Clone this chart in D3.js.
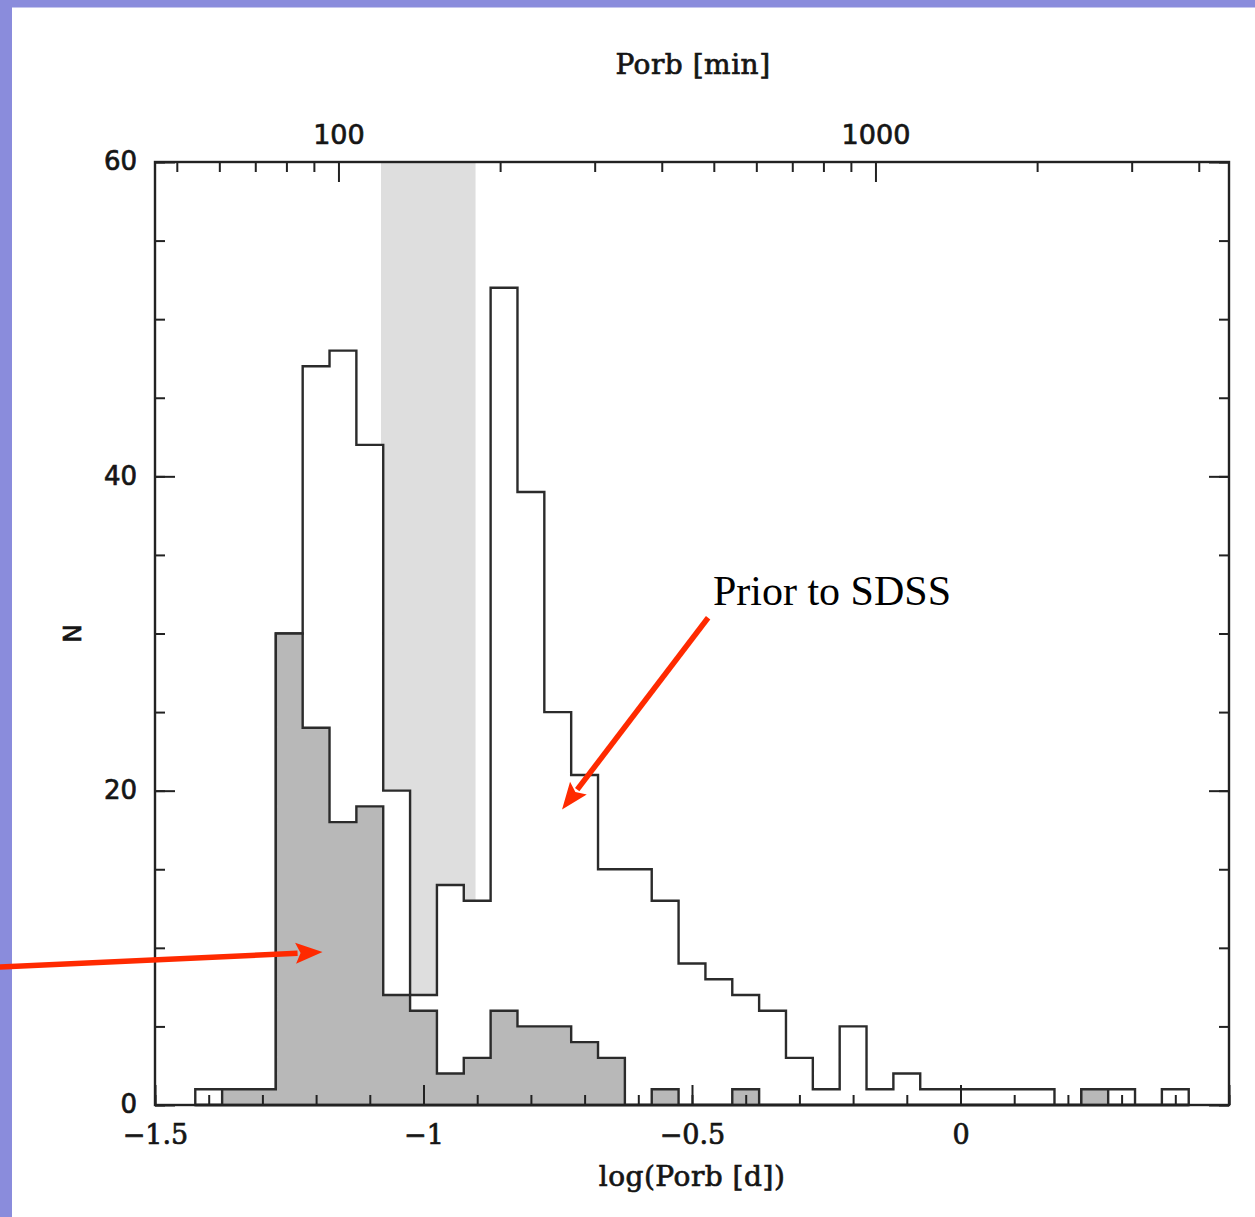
<!DOCTYPE html>
<html>
<head>
<meta charset="utf-8">
<script src="https://cdn.jsdelivr.net/npm/d3@7"></script>
<style>
  html, body { margin: 0; padding: 0; background: #fff; }
  svg { display: block; }
</style>
</head>
<body>
<svg id="chart" width="1255" height="1217"></svg>
<script>
// Orbital period distribution of cataclysmic variables, log(Porb [d]) bins of 0.05
const binStart = -1.425;
const binWidth = 0.05;

// All known systems (open histogram)
const countsAll = [1, 1, 1, 30, 47, 48, 42, 20, 7, 14, 13, 52, 39, 25, 21, 15, 15, 13, 9, 8,
                   7, 6, 3, 1, 5, 1, 2, 1, 1, 1, 1, 1, 0, 1, 1, 0, 1];
// SDSS systems (grey filled histogram)
const countsSDSS = [0, 1, 1, 30, 24, 18, 19, 7, 6, 2, 3, 6, 5, 5, 4, 3, 0, 1, 0, 0,
                    1, 0, 0, 0, 0, 0, 0, 0, 0, 0, 0, 0, 0, 1, 0, 0, 0];

// Period gap, 2 to 3 hours
const gapHours = [2, 3];

// Tick values
const xMajorTicks = [-1.5, -1, -0.5, 0, 0.5];
const xMinorTicks = d3.range(-1.5, 0.5001, 0.1).map(v => +v.toFixed(2));
const yMajorTicks = [0, 20, 40, 60];
const yMinorTicks = d3.range(0, 61, 5);
const topMajorTicks = [100, 1000];
const topMinorTicks = [50, 60, 70, 80, 90, 200, 300, 400, 500, 600, 700, 800, 900, 2000, 3000, 4000];

// Annotation anchors in data units
const priorLabel = { x: -0.461, y: 31.8, text: "Prior to SDSS" };
const priorArrow = { from: [-0.470, 31.0], to: [-0.742, 18.8] };
const sdssArrow = { from: [-1.79, 8.78], to: [-1.188, 9.73] };

const svg = d3.select("#chart");
const W = 1255, H = 1217;
const m = { left: 155, right: 1229, top: 162, bottom: 1105 };

const x = d3.scaleLinear().domain([-1.5, 0.5]).range([m.left, m.right]);
const y = d3.scaleLinear().domain([0, 60]).range([m.bottom, m.top]);
const minPerDay = 1440;
const xTop = d3.scaleLog()
  .domain([Math.pow(10, -1.5) * minPerDay, Math.pow(10, 0.5) * minPerDay])
  .range([m.left, m.right]);

const ink = "#151515";
const textStroke = 0.7;

// Page background and frame stripe
svg.append("rect").attr("width", W).attr("height", H).attr("fill", "#fff");
svg.append("rect").attr("x", 0).attr("y", 0).attr("width", W).attr("height", 7.5).attr("fill", "#8a8cdc");
svg.append("rect").attr("x", 0).attr("y", 0).attr("width", 12).attr("height", H).attr("fill", "#8a8cdc");

// Period gap band
const gapLo = Math.log10(gapHours[0] / 24), gapHi = Math.log10(gapHours[1] / 24);
svg.append("rect")
  .attr("x", x(gapLo)).attr("y", y(60))
  .attr("width", x(gapHi) - x(gapLo)).attr("height", y(0) - y(60))
  .attr("fill", "#dedede");

// Histogram builder
function binsOf(counts) {
  const pts = counts.map((n, k) => ({ x0: binStart + k * binWidth, n }));
  pts.push({ x0: binStart + counts.length * binWidth, n: counts[counts.length - 1] });
  return pts;
}
const area = d3.area()
  .curve(d3.curveStepAfter)
  .x(d => x(d.x0))
  .y0(y(0))
  .y1(d => y(d.n));

svg.append("path")
  .datum(binsOf(countsAll))
  .attr("d", area)
  .attr("fill", "#fff")
  .attr("stroke", "#2b2b2b")
  .attr("stroke-width", 2.4)
  .attr("stroke-linejoin", "miter");

svg.append("path")
  .datum(binsOf(countsSDSS))
  .attr("d", area)
  .attr("fill", "#b8b8b8")
  .attr("stroke", "#2b2b2b")
  .attr("stroke-width", 2.4)
  .attr("stroke-linejoin", "miter");

// Axes: ticks point inward
function styleAxis(g) {
  g.select(".domain").remove();
  g.selectAll(".tick line").attr("stroke", "#222").attr("stroke-width", 2);
}
function styleLabels(g, family, size) {
  g.selectAll("text")
    .attr("font-family", family)
    .attr("font-size", size)
    .attr("fill", ink)
    .attr("stroke", ink)
    .attr("stroke-width", textStroke);
}

const minorLen = 10, majorLen = 20;

svg.append("g").attr("transform", `translate(0,${m.bottom})`)
  .call(d3.axisBottom(x).tickValues(xMinorTicks).tickSize(-minorLen).tickFormat(""))
  .call(styleAxis);
svg.append("g").attr("transform", `translate(0,${m.bottom})`)
  .call(d3.axisBottom(x).tickValues(xMajorTicks).tickSize(-majorLen).tickPadding(20)
    .tickFormat(d => d === 0 ? "0" : (d === 0.5 ? "" : d3.format("")(d).replace("-", "\u2212"))))
  .call(styleAxis)
  .call(g => styleLabels(g, "'DejaVu Serif', serif", 27))
  .call(g => g.selectAll("text").attr("dy", "0.71em"));

svg.append("g").attr("transform", `translate(0,${m.top})`)
  .call(d3.axisTop(xTop).tickValues(topMinorTicks).tickSize(-minorLen).tickFormat(""))
  .call(styleAxis);
svg.append("g").attr("transform", `translate(0,${m.top})`)
  .call(d3.axisTop(xTop).tickValues(topMajorTicks).tickSize(-majorLen).tickPadding(18)
    .tickFormat(d3.format("d")))
  .call(styleAxis)
  .call(g => styleLabels(g, "'DejaVu Sans', sans-serif", 27));

svg.append("g").attr("transform", `translate(${m.left},0)`)
  .call(d3.axisLeft(y).tickValues(yMinorTicks).tickSize(-minorLen).tickFormat(""))
  .call(styleAxis);
svg.append("g").attr("transform", `translate(${m.left},0)`)
  .call(d3.axisLeft(y).tickValues(yMajorTicks).tickSize(-majorLen).tickPadding(18)
    .tickFormat(d3.format("d")))
  .call(styleAxis)
  .call(g => styleLabels(g, "'DejaVu Sans', sans-serif", 26))
  .call(g => g.selectAll("text").attr("dy", "0.30em"));

svg.append("g").attr("transform", `translate(${m.right},0)`)
  .call(d3.axisRight(y).tickValues(yMinorTicks).tickSize(-minorLen).tickFormat(""))
  .call(styleAxis);
svg.append("g").attr("transform", `translate(${m.right},0)`)
  .call(d3.axisRight(y).tickValues(yMajorTicks).tickSize(-majorLen).tickFormat(""))
  .call(styleAxis);

// Plot frame
svg.append("rect")
  .attr("x", m.left).attr("y", m.top)
  .attr("width", m.right - m.left).attr("height", m.bottom - m.top)
  .attr("fill", "none").attr("stroke", "#222").attr("stroke-width", 2.4);

// Axis titles
svg.append("text")
  .attr("x", 692).attr("y", 1186)
  .attr("text-anchor", "middle")
  .attr("font-family", "'DejaVu Serif', serif")
  .attr("font-size", 28).attr("letter-spacing", 0.5)
  .attr("fill", ink).attr("stroke", ink).attr("stroke-width", textStroke)
  .text("log(Porb [d])");

svg.append("text")
  .attr("x", 693).attr("y", 74)
  .attr("text-anchor", "middle")
  .attr("font-family", "'DejaVu Serif', serif")
  .attr("font-size", 28).attr("letter-spacing", 0.5)
  .attr("fill", ink).attr("stroke", ink).attr("stroke-width", textStroke)
  .text("Porb [min]");

svg.append("text")
  .attr("transform", `translate(81,${(m.top + m.bottom) / 2}) rotate(-90)`)
  .attr("text-anchor", "middle")
  .attr("font-family", "'DejaVu Sans', sans-serif")
  .attr("font-size", 25)
  .attr("fill", ink).attr("stroke", ink).attr("stroke-width", textStroke)
  .text("N");

// Annotations
const red = "#ff2a00";
function arrow(from, to) {
  const x1 = x(from[0]), y1 = y(from[1]), x2 = x(to[0]), y2 = y(to[1]);
  const dx = x2 - x1, dy = y2 - y1, L = Math.hypot(dx, dy);
  const ux = dx / L, uy = dy / L, px = -uy, py = ux;
  const head = 27, half = 10.5;
  const bx = x2 - ux * head, by = y2 - uy * head;
  svg.append("line")
    .attr("x1", x1).attr("y1", y1).attr("x2", bx + ux * 2).attr("y2", by + uy * 2)
    .attr("stroke", red).attr("stroke-width", 5.5);
  svg.append("path")
    .attr("d", `M${x2},${y2}L${bx + px * half},${by + py * half}L${bx + ux * 5},${by + uy * 5}L${bx - px * half},${by - py * half}Z`)
    .attr("fill", red);
}
arrow(priorArrow.from, priorArrow.to);
arrow(sdssArrow.from, sdssArrow.to);

svg.append("text")
  .attr("x", x(priorLabel.x)).attr("y", y(priorLabel.y))
  .attr("font-family", "'Liberation Serif', 'Times New Roman', serif")
  .attr("font-size", 42)
  .attr("fill", "#000")
  .text(priorLabel.text);
</script>
</body>
</html>
